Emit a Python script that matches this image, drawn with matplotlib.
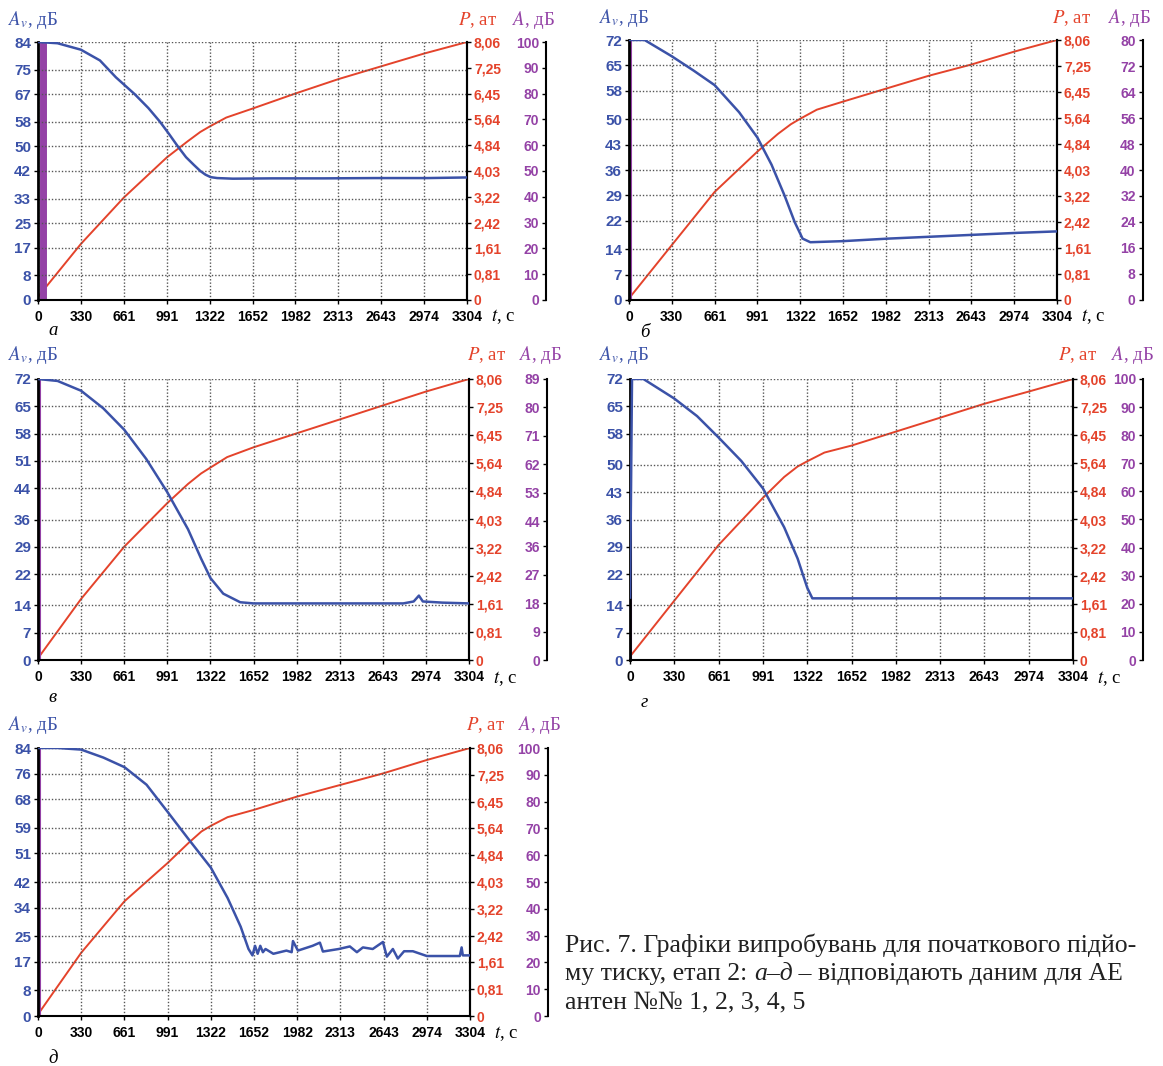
#!/usr/bin/env python3

import matplotlib
matplotlib.use("Agg")
import matplotlib.pyplot as plt

plt.rcParams.update({
    "font.family": ["Liberation Sans", "DejaVu Sans"],
    "mathtext.fontset": "stix",
})

BLUE = "#3b52a8"
RED = "#e4432b"
PURPLE = "#9442a6"

# time axis, shared by all panels
T_TICKS = [0, 330, 661, 991, 1322, 1652, 1982, 2313, 2643, 2974, 3304]
P_TICKS = [0, 0.81, 1.61, 2.42, 3.22, 4.03, 4.84, 5.64, 6.45, 7.25, 8.06]

# panel а
AV_TICKS_A = [0, 8, 17, 25, 33, 42, 50, 58, 67, 75, 84]
A_TICKS_A = [0, 10, 20, 30, 40, 50, 60, 70, 80, 90, 100]
T_AV_A = [0, 150, 330, 477, 600, 745, 850, 940, 1010, 1077, 1140, 1200, 1250,
          1290, 1330, 1380, 1500, 1800, 2200, 2600, 3000, 3304]
AV_A = [84, 83.6, 81.5, 78, 72.5, 67, 62.5, 58, 54, 50, 46.5, 44, 42, 40.8,
        40, 39.7, 39.5, 39.6, 39.6, 39.7, 39.7, 39.9]
T_P_A = [0, 330, 661, 991, 1150, 1250, 1322, 1450, 1652, 1982, 2313, 2643,
         2974, 3304]
P_A = [0.1, 1.75, 3.2, 4.45, 4.95, 5.25, 5.42, 5.7, 5.98, 6.45, 6.9, 7.3,
       7.7, 8.06]
T_A_A = [35, 35]
A_A = [0, 100]

# panel б
AV_TICKS_B = [0, 7, 14, 22, 29, 36, 43, 50, 58, 65, 72]
A_TICKS_B = [0, 8, 16, 24, 32, 40, 48, 56, 64, 72, 80]
T_AV_B = [0, 120, 330, 500, 661, 850, 991, 1100, 1200, 1280, 1340, 1400,
          1652, 2000, 2500, 3000, 3304]
AV_B = [72, 72, 67.5, 63.5, 59.5, 52, 45, 37.5, 29, 21.5, 17, 16, 16.3, 17,
        17.8, 18.6, 19]
T_P_B = [0, 330, 661, 991, 1150, 1250, 1322, 1450, 1652, 1982, 2313, 2643,
         2974, 3304]
P_B = [0.05, 1.7, 3.35, 4.6, 5.15, 5.45, 5.62, 5.9, 6.15, 6.55, 6.95, 7.3,
       7.7, 8.06]
T_A_B = [12, 12]
A_A_B = [0, 80]

# panel в
AV_TICKS_C = [0, 7, 14, 22, 29, 36, 44, 51, 58, 65, 72]
A_TICKS_C = [0, 9, 18, 27, 36, 44, 53, 62, 71, 80, 89]
T_AV_C = [0, 150, 330, 500, 661, 830, 991, 1150, 1250, 1322, 1420, 1550,
          1652, 2800, 2880, 2920, 2950, 3100, 3304]
AV_C = [72, 71.5, 69, 64.5, 59, 51.5, 43, 33.5, 26, 21, 17, 14.8, 14.5, 14.5,
        15, 16.5, 15, 14.7, 14.5]
T_P_C = [0, 330, 661, 991, 1150, 1250, 1322, 1450, 1652, 1982, 2313, 2643,
         2974, 3304]
P_C = [0.05, 1.75, 3.25, 4.5, 5.05, 5.35, 5.52, 5.82, 6.1, 6.5, 6.9, 7.3,
       7.7, 8.06]
T_A_C = [12, 12]
A_A_C = [0, 89]

# panel г
AV_TICKS_D = [0, 7, 14, 22, 29, 36, 43, 50, 58, 65, 72]
A_TICKS_D = [0, 10, 20, 30, 40, 50, 60, 70, 80, 90, 100]
T_AV_D = [0, 15, 100, 330, 500, 661, 830, 991, 1150, 1250, 1322, 1360,
          1652, 2500, 3304]
AV_D = [16, 72, 72, 67, 62.5, 57, 51, 44, 34, 26, 18.5, 15.8, 15.8, 15.8,
        15.8]
T_P_D = [0, 330, 661, 991, 1150, 1250, 1322, 1450, 1652, 1982, 2313, 2643,
         2974, 3304]
P_D = [0.1, 1.7, 3.3, 4.65, 5.25, 5.55, 5.7, 5.95, 6.15, 6.55, 6.95, 7.35,
       7.7, 8.06]
T_A_D = [10, 10]
A_A_D = [0, 100]

# panel д
AV_TICKS_E = [0, 8, 17, 25, 34, 42, 51, 59, 68, 76, 84]
A_TICKS_E = [0, 10, 20, 30, 40, 50, 60, 70, 80, 90, 100]
T_AV_E = [0, 150, 330, 500, 661, 830, 991, 1150, 1322, 1450, 1550, 1610,
          1640, 1660, 1680, 1700, 1720, 1740, 1800, 1900, 1940, 1950, 1988,
          2100, 2156, 2179, 2300, 2385, 2439, 2485, 2560, 2638, 2668, 2714,
          2752, 2800, 2867, 2974, 3100, 3226, 3240, 3249, 3304]
AV_E = [84, 84, 83.5, 81, 78, 72.5, 64, 55.5, 46.5, 37, 28, 21, 19, 22, 19.5,
        22, 20, 21, 19.5, 20.5, 20, 23.5, 20.5, 22, 23, 20.2, 21, 21.8, 20,
        21.5, 21, 23.2, 18.6, 21, 18, 20.3, 20.3, 18.8, 18.8, 18.8, 21.5, 19,
        19]
T_P_E = [0, 330, 661, 991, 1150, 1250, 1322, 1450, 1652, 1982, 2313, 2643,
         2974, 3304]
P_E = [0.05, 1.9, 3.45, 4.6, 5.2, 5.55, 5.72, 5.98, 6.2, 6.6, 6.95, 7.3,
       7.7, 8.06]
T_A_E = [12, 12]
A_A_E = [0, 100]

FIG_W, FIG_H = 1163, 1066


def fmt_p(v):
    return "0" if v == 0 else ("%.2f" % v).replace(".", ",")


def panel(fig, box, t_av, av, av_ticks, t_p, p, t_a, a, a_ticks, a_lw,
          a_off, p_lab_x, a_lab_x, letter, letter_y):
    x0, y0, x1, y1 = box  # pixel box: left, top, right, bottom
    ax = fig.add_axes([x0 / FIG_W, 1 - y1 / FIG_H,
                       (x1 - x0) / FIG_W, (y1 - y0) / FIG_H])
    tick_kw = dict(length=3, width=1, pad=2)

    ax.set_xlim(0, 3304)
    ax.set_ylim(0, av_ticks[-1])
    ax.set_xticks(T_TICKS)
    ax.set_xticklabels([str(v) for v in T_TICKS], fontweight="bold")
    ax.set_yticks(av_ticks)
    ax.set_yticklabels([str(v) for v in av_ticks], fontweight="bold",
                       color=BLUE)
    ax.tick_params(axis="both", **tick_kw)
    ax.tick_params(axis="x", pad=4, labelsize=10)
    ax.tick_params(axis="y", labelsize=11)
    ax.grid(True, color="#555555", linestyle=(0, (1, 1.4)), lw=1)
    ax.spines["top"].set_visible(False)
    ax.spines["left"].set_linewidth(2)
    ax.spines["bottom"].set_linewidth(1.5)
    ax.spines["right"].set_linewidth(1.5)

    # pressure axis
    axp = ax.twinx()
    axp.set_ylim(0, 8.06)
    axp.set_yticks(P_TICKS)
    axp.set_yticklabels([fmt_p(v) for v in P_TICKS], fontweight="bold",
                        color=RED)
    axp.tick_params(axis="y", labelsize=10, **tick_kw)
    for s in ("top", "left", "bottom"):
        axp.spines[s].set_visible(False)
    axp.spines["right"].set_linewidth(1.5)

    # amplitude axis, offset to the right
    axa = ax.twinx()
    axa.set_ylim(0, a_ticks[-1])
    for s in ("top", "right", "bottom"):
        axa.spines[s].set_visible(False)
    axa.spines["left"].set_position(("axes", a_off))
    axa.spines["left"].set_linewidth(1.5)
    axa.yaxis.set_ticks_position("left")
    axa.yaxis.set_label_position("left")
    axa.set_yticks(a_ticks)
    axa.set_yticklabels([str(v) for v in a_ticks], fontweight="bold",
                        color=PURPLE)
    axa.tick_params(axis="y", labelsize=10, **tick_kw)

    axp.plot(t_p, p, color=RED, lw=1.4, zorder=3)
    axa.plot(t_a, a, color=PURPLE, lw=a_lw, zorder=2)
    ax.set_zorder(axp.get_zorder() + 2)
    ax.patch.set_visible(False)
    ax.plot(t_av, av, color=BLUE, lw=1.8, zorder=4)

    serif = dict(family=["Liberation Serif", "DejaVu Serif"], fontsize=13.5,
                 transform=ax.transAxes, va="center")
    ax.text(-0.07, 1.085, r"$A_v$, дБ", color=BLUE, ha="left", **serif)
    ax.text(p_lab_x, 1.085, r"$P$, ат", color=RED, ha="center", **serif)
    ax.text(a_lab_x, 1.085, r"$A$, дБ", color=PURPLE, ha="center", **serif)
    ax.text(1.055, -0.065, r"$t$, с", color="black", ha="left", **serif)
    ax.text(0.025, letter_y, letter, color="black", ha="left",
            fontstyle="italic", **serif)
    return ax


def main():
    fig = plt.figure(figsize=(FIG_W / 100, FIG_H / 100), dpi=100)

    panel(fig, (38, 42, 467, 300), T_AV_A, AV_A, AV_TICKS_A, T_P_A, P_A,
          T_A_A, A_A, A_TICKS_A, 5, 1.184, 1.025, 1.155, "а", -0.12)
    panel(fig, (629, 40, 1057, 300), T_AV_B, AV_B, AV_TICKS_B, T_P_B, P_B,
          T_A_B, A_A_B, A_TICKS_B, 1.5, 1.2, 1.035, 1.17, "б", -0.125)
    panel(fig, (38, 379, 469, 660), T_AV_C, AV_C, AV_TICKS_C, T_P_C, P_C,
          T_A_C, A_A_C, A_TICKS_C, 1.5, 1.181, 1.04, 1.165, "в", -0.135)
    panel(fig, (630, 379, 1073, 660), T_AV_D, AV_D, AV_TICKS_D, T_P_D, P_D,
          T_A_D, A_A_D, A_TICKS_D, 1.5, 1.158, 1.01, 1.135, "г", -0.15)
    panel(fig, (38, 748, 470, 1016), T_AV_E, AV_E, AV_TICKS_E, T_P_E, P_E,
          T_A_E, A_A_E, A_TICKS_E, 1.5, 1.18, 1.035, 1.16, "д", -0.16)

    # caption, with italic "а–д" in the second line
    cap = dict(family=["Liberation Serif", "DejaVu Serif"], fontsize=18.5,
               color="#222222", va="baseline", ha="left")
    x_c = 565 / FIG_W
    fig.text(x_c, 1 - 952 / FIG_H,
             "Рис. 7. Графіки випробувань для початкового підйо-", **cap)
    fig.text(x_c, 1 - 1008 / FIG_H, "антен №№ 1, 2, 3, 4, 5", **cap)
    renderer = fig.canvas.get_renderer()
    y2 = 1 - 980 / FIG_H
    x = x_c
    for part, style in (("му тиску, етап 2: ", "normal"), ("а–д", "italic"),
                        (" – відповідають даним для АЕ", "normal")):
        t = fig.text(x, y2, part, fontstyle=style, **cap)
        bb = t.get_window_extent(renderer)
        x += bb.width / FIG_W

    fig.savefig("out.png", dpi=100)


if __name__ == "__main__":
    main()
